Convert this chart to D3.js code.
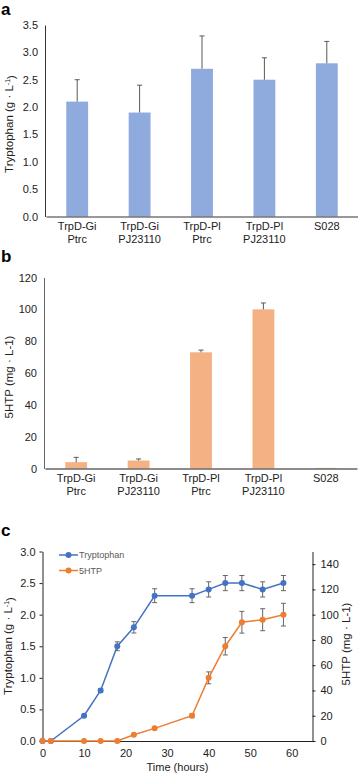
<!DOCTYPE html>
<html>
<head>
<meta charset="utf-8">
<script src="https://cdn.jsdelivr.net/npm/d3@7"></script>
<style>
  body { margin: 0; background: #fff; }
  svg { display: block; font-family: "Liberation Sans", Arial, sans-serif; }
</style>
</head>
<body>
<div id="main"></div>
<script>
const ctx = {
    WIDTH: 358,
    HEIGHT: 774
}

// panel a / b categories (two-line labels)
const strains = ["TrpD-Gi|Ptrc", "TrpD-Gi|PJ23110", "TrpD-Pl|Ptrc", "TrpD-Pl|PJ23110", "S028"];
const trpTiter = [2.1, 1.9, 2.7, 2.5, 2.8];
const trpErr = [0.4, 0.5, 0.6, 0.4, 0.4];
const htpTiter = [4, 5, 73, 100, 0.4];
const htpErr = [3, 1, 1.4, 4, 0];
const aTicks = [0, 0.5, 1.0, 1.5, 2.0, 2.5, 3.0, 3.5];
const bTicks = [0, 20, 40, 60, 80, 100, 120];

// panel c time course
const hours = [0, 2, 10, 14, 18, 22, 27, 36, 40, 44, 48, 53, 58];
const trpCourse = [0, 0, 0.4, 0.8, 1.5, 1.8, 2.3, 2.3, 2.4, 2.5, 2.5, 2.4, 2.5];
const trpCourseErr = [0, 0, 0, 0.03, 0.07, 0.09, 0.11, 0.11, 0.12, 0.12, 0.12, 0.12, 0.12];
const htpCourse = [0, 0, 0, 0, 0, 5, 10, 20, 50, 75, 94, 96, 100];
const htpCourseErr = [0, 0, 0, 0, 0, 0, 0, 1.5, 4.7, 6.9, 8.6, 8.7, 9];
const cLeftTicks = [0, 0.5, 1.0, 1.5, 2.0, 2.5, 3.0];
const cRightTicks = [0, 20, 40, 60, 80, 100, 120, 140];
const cTimeTicks = [0, 10, 20, 30, 40, 50, 60];

const BLUE = "#4472C4", ORANGE = "#ED7D31";

function yTitle(svg, x, y, main, sup, rest) {
  const t = svg.append("text")
      .attr("transform", `translate(${x},${y}) rotate(-90)`)
      .attr("text-anchor", "middle")
      .style("font-size", "11.5px")
      .attr("fill", "#222");
  t.append("tspan").text(main);
  if (sup) {
    t.append("tspan").attr("dy", "-0.4em").style("font-size", "7px").text(sup);
    t.append("tspan").attr("dy", "0.4em").text(rest);
  }
}

function barPanel(svg, opt) {
  const x = d3.scaleBand().domain(strains).range(opt.xr).paddingInner(0.65).paddingOuter(0.325);
  const y = d3.scaleLinear().domain(opt.yd).range(opt.yr);
  const g = svg.append("g");

  g.selectAll("rect.bar")
    .data(opt.values)
    .enter().append("rect")
      .attr("class", "bar")
      .attr("x", (d, i) => x(strains[i]))
      .attr("width", x.bandwidth())
      .attr("y", d => y(d))
      .attr("height", d => y(0) - y(d))
      .attr("fill", opt.color);

  // error bars (upper only)
  const eb = g.selectAll("g.err")
    .data(opt.values.map((v, i) => ({v: v, e: opt.errs[i], c: strains[i]})).filter(d => d.e > 0))
    .enter().append("g")
      .attr("stroke", "#595959").attr("stroke-width", 1);
  eb.append("line")
      .attr("x1", d => x(d.c) + x.bandwidth() / 2).attr("x2", d => x(d.c) + x.bandwidth() / 2)
      .attr("y1", d => y(d.v)).attr("y2", d => y(d.v + d.e));
  eb.append("line")
      .attr("x1", d => x(d.c) + x.bandwidth() / 2 - 2.5).attr("x2", d => x(d.c) + x.bandwidth() / 2 + 2.5)
      .attr("y1", d => y(d.v + d.e)).attr("y2", d => y(d.v + d.e));

  // y axis
  const ya = g.append("g")
      .attr("transform", `translate(${opt.xr[0] - 1},0)`)
      .call(d3.axisLeft(y).tickValues(opt.ticks).tickSize(0).tickPadding(7).tickFormat(opt.fmt));
  ya.select(".domain").attr("stroke", opt.axisColor);
  ya.selectAll("text").style("font-size", "11px").attr("fill", "#222");

  // x axis
  const xa = g.append("g")
      .attr("transform", `translate(0,${y(0)})`)
      .call(d3.axisBottom(x).tickSize(0).tickPadding(6).tickFormat(""));
  xa.select(".domain").attr("stroke", opt.axisColor).attr("stroke-width", opt.xw);
  xa.selectAll(".tick text").each(function(d) {
    const t = d3.select(this).style("font-size", "11px").attr("fill", "#222");
    d.split("|").forEach((s, k) => {
      t.append("tspan").attr("x", 0).attr("dy", k === 0 ? "0.71em" : "1.15em").text(s);
    });
  });
}

function populateSVGcanvas() {
  const svg = d3.select("#main svg");

  // panel letters
  [["a", 15], ["b", 262], ["c", 536]].forEach(p => {
    svg.append("text").attr("x", 1).attr("y", p[1])
      .style("font-size", "17px").style("font-weight", "bold").text(p[0]);
  });

  barPanel(svg, {xr: [46, 358], yd: [0, 3.5], yr: [216.5, 25], values: trpTiter, errs: trpErr,
    ticks: aTicks, fmt: d3.format(".1f"), color: "#8FAADC", axisColor: "#333", xw: 1});
  yTitle(svg, 13, 124, "Tryptophan (g · L", "-1", ")");

  barPanel(svg, {xr: [45, 357], yd: [0, 120], yr: [468.5, 277.5], values: htpTiter, errs: htpErr,
    ticks: bTicks, fmt: d3.format("d"), color: "#F4B183", axisColor: "#666", xw: 1.5});
  yTitle(svg, 13, 377, "5HTP (mg · L-1)");

  // panel c
  const x = d3.scaleLinear().domain([0, 65]).range([42.5, 312.5]);
  const yl = d3.scaleLinear().domain([0, 3]).range([741, 551.5]);
  const yr = d3.scaleLinear().domain([0, 150]).range([741, 551.5]);
  const g = svg.append("g");

  const la = g.append("g").attr("transform", `translate(${x(0)},0)`)
      .call(d3.axisLeft(yl).tickValues(cLeftTicks).tickSize(3).tickSizeOuter(0).tickPadding(4).tickFormat(d3.format(".1f")));
  const ra = g.append("g").attr("transform", `translate(${x(65)},0)`)
      .call(d3.axisRight(yr).tickValues(cRightTicks).tickSize(3).tickSizeOuter(0).tickPadding(5).tickFormat(d3.format("d")));
  const ba = g.append("g").attr("transform", `translate(0,${yl(0)})`)
      .call(d3.axisBottom(x).tickValues(cTimeTicks).tickSize(0).tickPadding(8).tickFormat(d3.format("d")));
  [la, ra, ba].forEach(a => {
    a.selectAll("path, line").attr("stroke", "#222");
    a.selectAll("text").style("font-size", "11px").attr("fill", "#222");
  });

  const series = [
    {name: "Tryptophan", v: trpCourse, e: trpCourseErr, y: yl, color: BLUE},
    {name: "5HTP", v: htpCourse, e: htpCourseErr, y: yr, color: ORANGE}
  ];

  series.forEach(s => {
    const pts = hours.map((h, i) => ({h: h, v: s.v[i], e: s.e[i]}));
    const eg = g.append("g").attr("stroke", "#666").attr("stroke-width", 1);
    const errs = eg.selectAll("g").data(pts.filter(d => d.e > 0)).enter().append("g");
    errs.append("line")
      .attr("x1", d => x(d.h)).attr("x2", d => x(d.h))
      .attr("y1", d => s.y(d.v - d.e)).attr("y2", d => s.y(d.v + d.e));
    [-1, 1].forEach(k => {
      errs.append("line")
        .attr("x1", d => x(d.h) - 2.5).attr("x2", d => x(d.h) + 2.5)
        .attr("y1", d => s.y(d.v + k * d.e)).attr("y2", d => s.y(d.v + k * d.e));
    });
  });

  series.forEach(s => {
    const pts = hours.map((h, i) => ({h: h, v: s.v[i]}));
    g.append("path")
      .datum(pts)
      .attr("fill", "none")
      .attr("stroke", s.color)
      .attr("stroke-width", 1.5)
      .attr("d", d3.line().x(d => x(d.h)).y(d => s.y(d.v)));
    g.selectAll(null).data(pts).enter().append("circle")
      .attr("cx", d => x(d.h)).attr("cy", d => s.y(d.v))
      .attr("r", 3).attr("fill", s.color);
  });

  // legend
  series.forEach((s, i) => {
    const ly = 555 + i * 15.5;
    g.append("line").attr("x1", 59).attr("x2", 78).attr("y1", ly).attr("y2", ly)
      .attr("stroke", s.color).attr("stroke-width", 1.5);
    g.append("circle").attr("cx", 68.5).attr("cy", ly).attr("r", 3).attr("fill", s.color);
    g.append("text").attr("x", 79).attr("y", ly + 3.2)
      .style("font-size", "9px").attr("fill", "#595959").text(s.name);
  });

  yTitle(svg, 12, 646, "Tryptophan (g · L", "-1", ")");
  svg.append("text")
    .attr("transform", "translate(350,644) rotate(-90)")
    .attr("text-anchor", "middle").style("font-size", "11.5px").attr("fill", "#222")
    .text("5HTP (mg · L-1)");
  svg.append("text").attr("x", 177.5).attr("y", 771)
    .attr("text-anchor", "middle").style("font-size", "11px").attr("fill", "#222")
    .text("Time (hours)");
}

function createViz() {
  const svgEl = d3.select("#main").append("svg");
  svgEl.attr("width", ctx.WIDTH);
  svgEl.attr("height", ctx.HEIGHT);
  populateSVGcanvas();
}

createViz();
</script>
</body>
</html>
